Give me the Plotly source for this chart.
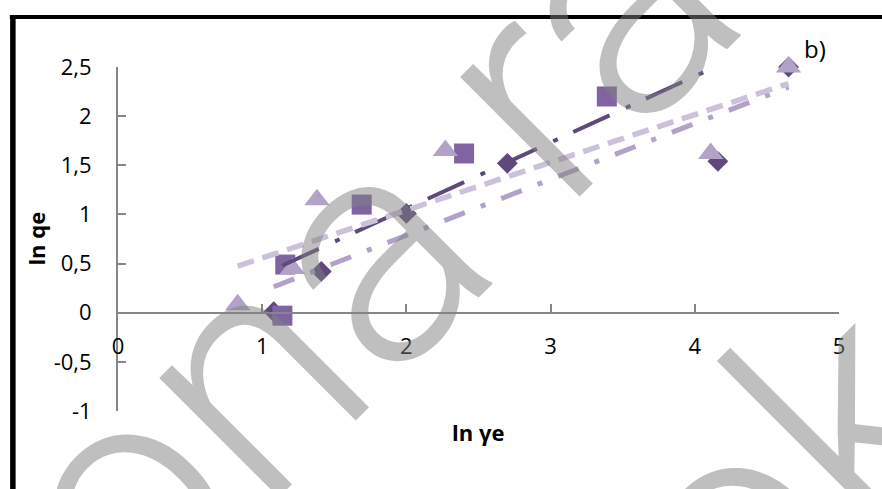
import numpy as np
import plotly.graph_objects as go

# ln(gamma_e) / ln(q_e) pairs for the three data sets
diamond_x = [1.08, 1.41, 2.00, 2.70, 4.16, 4.65]
diamond_y = [0.01, 0.42, 1.01, 1.52, 1.54, 2.50]
square_x = [1.14, 1.16, 1.69, 2.40, 3.39, 5.30]
square_y = [-0.03, 0.49, 1.10, 1.62, 2.20, 3.05]
triangle_x = [0.83, 1.21, 1.38, 2.27, 4.11, 4.65]
triangle_y = [0.08, 0.45, 1.15, 1.65, 1.62, 2.50]

x_ticks = [0, 1, 2, 3, 4, 5]
x_tick_text = ["0", "1", "2", "3", "4", "5"]
y_ticks = [-1, -0.5, 0, 0.5, 1, 1.5, 2, 2.5]
y_tick_text = ["-1", "-0,5", "0", "0,5", "1", "1,5", "2", "2,5"]

x_title = "ln γe"
y_title = "ln qe"
panel_label = "b)"
watermark_lines = ["ona ra", "ok"]

DARK = "#5F497A"
MID = "#8064A2"
LIGHT = "#B3A2C7"
PALE = "#CCC1DA"
AXIS = "#868686"
FONT = "Open Sans"


def trend(xs, ys):
    """Least-squares straight line spanning the data range."""
    slope, icpt = np.polyfit(xs, ys, 1)
    xe = np.array([min(xs), max(xs)])
    return xe, slope * xe + icpt


fig = go.Figure()

fig.add_trace(go.Scatter(x=diamond_x, y=diamond_y, mode="markers", cliponaxis=False,
                         marker=dict(symbol="diamond", size=16, color=DARK)))
fig.add_trace(go.Scatter(x=square_x, y=square_y, mode="markers", cliponaxis=True,
                         marker=dict(symbol="square", size=20, color=MID)))
fig.add_trace(go.Scatter(x=triangle_x, y=triangle_y, mode="markers", cliponaxis=False,
                         marker=dict(symbol="triangle-up", size=22, color=LIGHT)))

tx, ty = trend(square_x, square_y)
fig.add_trace(go.Scatter(x=tx, y=ty, mode="lines", cliponaxis=True,
                         line=dict(color=DARK, width=4, dash="40px,18px,5px,17px")))
tx, ty = trend(diamond_x, diamond_y)
fig.add_trace(go.Scatter(x=tx, y=ty, mode="lines", cliponaxis=True,
                         line=dict(color=LIGHT, width=5, dash="22px,17px,5px,17px")))
tx, ty = trend(triangle_x, triangle_y)
fig.add_trace(go.Scatter(x=tx, y=ty, mode="lines", cliponaxis=True,
                         line=dict(color=PALE, width=5.5, dash="17px,9px")))

fig.update_layout(
    width=882, height=489,
    margin=dict(l=117.5, r=43, t=67, b=78),
    paper_bgcolor="white", plot_bgcolor="white",
    showlegend=False,
    font=dict(family=FONT, size=22, color="black"),
    xaxis=dict(range=[0, 5], anchor="free", position=1 / 3.5,
               showgrid=False, zeroline=False,
               showline=True, linecolor=AXIS, linewidth=2,
               ticks="inside", ticklen=8, tickwidth=2, tickcolor=AXIS,
               tickvals=x_ticks, ticktext=x_tick_text, ticklabelstandoff=14),
    yaxis=dict(range=[-1, 2.5], showgrid=False, zeroline=False,
               showline=True, linecolor=AXIS, linewidth=2,
               ticks="inside", ticklen=8, tickwidth=2, tickcolor=AXIS,
               tickvals=y_ticks, ticktext=y_tick_text, ticklabelstandoff=20),
)

fig.add_annotation(text=f"<b>{y_title}</b>", x=-0.1143, y=0.5, xref="paper", yref="paper",
                   textangle=-90, showarrow=False, xanchor="center", yanchor="middle",
                   font=dict(family=FONT, size=22))
fig.add_annotation(text=f"<b>{x_title}</b>", x=0.4997, y=-0.061, xref="paper", yref="paper",
                   showarrow=False, xanchor="center", yanchor="middle",
                   font=dict(family=FONT, size=22))
fig.add_annotation(text=panel_label, x=0.9667, y=1.0552, xref="paper", yref="paper",
                   showarrow=False, xanchor="center", yanchor="middle",
                   font=dict(family=FONT, size=24))

# diagonal watermark lettering
wm_pos = [(0.3469, 0.4564), (0.925, -0.192)]
for txt, (wx, wy) in zip(watermark_lines, wm_pos):
    fig.add_annotation(text=txt, x=wx, y=wy, xref="paper", yref="paper",
                       textangle=-45, showarrow=False, xanchor="center", yanchor="middle",
                       font=dict(family="Roboto", size=320, weight=300,
                                 color="rgba(128,128,128,0.5)"))

# black frame along the left and top edges
fig.add_shape(type="line", xref="paper", yref="paper", x0=-0.1458, x1=-0.1458,
              y0=1.151, y1=-0.3, line=dict(color="black", width=5.5), layer="above")
fig.add_shape(type="line", xref="paper", yref="paper", x0=-0.15, x1=1.08,
              y0=1.1453, y1=1.1453, line=dict(color="black", width=4), layer="above")

fig.write_html("out.html")
